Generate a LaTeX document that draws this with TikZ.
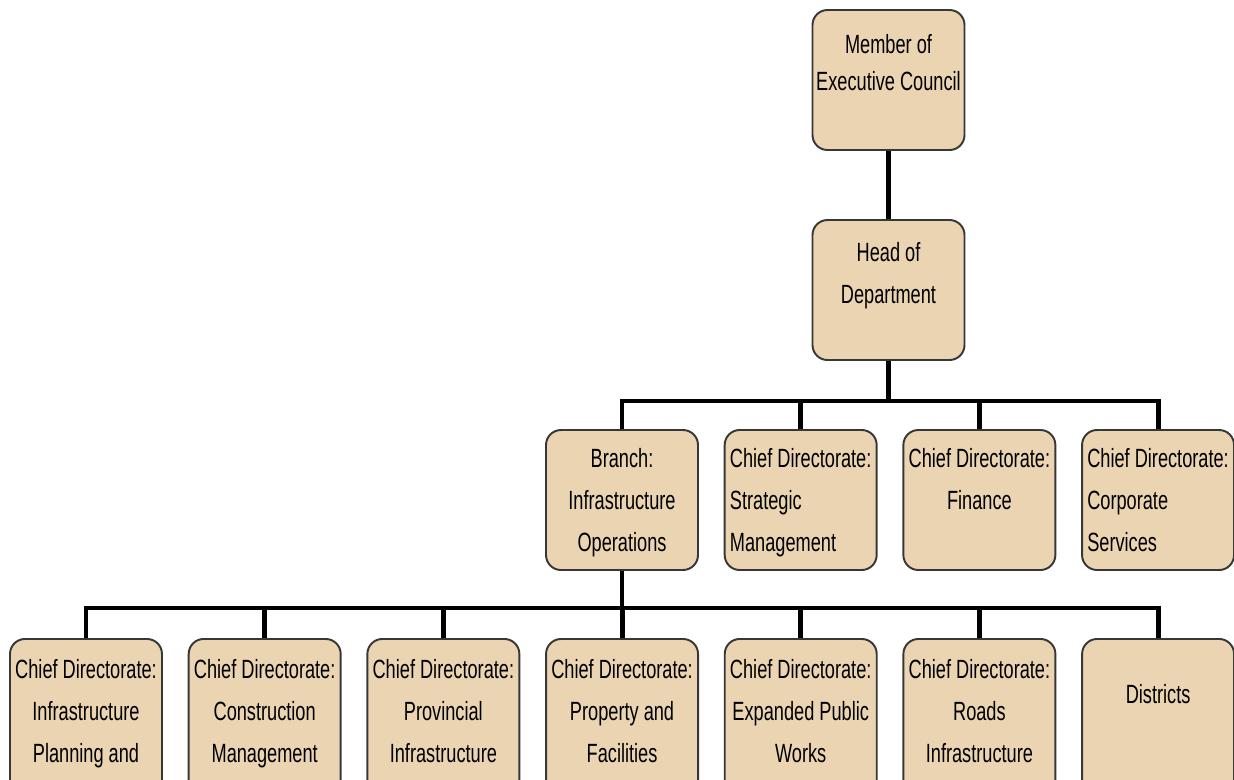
\documentclass[tikz,border=0pt]{standalone}
\usepackage{fontspec}
\setmainfont{Liberation Sans}[FakeStretch=0.69]
\usetikzlibrary{positioning,calc}
\definecolor{boxfill}{RGB}{234,212,178}
\definecolor{boxline}{RGB}{55,55,55}

\begin{document}
\begin{tikzpicture}[node distance=0.495cm,
  unit/.style={draw=boxline,line width=1.1pt,fill=boxfill,rounded corners=0.3cm,minimum width=3.04cm,minimum height=2.8cm,inner sep=0pt},
  lowunit/.style={unit,minimum height=3.4cm},
  txt/.style={anchor=north,inner sep=0pt,align=center,font=\fontsize{15}{24}\selectfont},
  conn/.style={line width=2.8pt}]
\useasboundingbox (0,0) rectangle (24.68,-15.58);

% top of the chart
\node[unit] (mec) at (17.77,-1.6) {};
\node[unit] (hod) at (17.77,-5.8) {};

% second level
\node[unit] (branch) at (12.44,-10.0) {};
\node[unit,right=of branch] (strat) {};
\node[unit,right=of strat] (fin) {};
\node[unit,right=of fin] (corp) {};

% third level
\node[lowunit,anchor=north] (plan) at (1.72,-12.76) {};
\node[lowunit,right=of plan] (constr) {};
\node[lowunit,right=of constr] (prov) {};
\node[lowunit,right=of prov] (prop) {};
\node[lowunit,right=of prop] (epw) {};
\node[lowunit,right=of epw] (roads) {};
\node[lowunit,right=of roads] (dist) {};

% texts
\node[txt] (mec-t) at ([yshift=-0.5cm]mec.north) {Member of\\[-3pt]Executive Council};
\node[txt] (hod-t) at ([yshift=-0.46cm]hod.north) {Head of\\Department};
\node[txt] (branch-t) at ([yshift=-0.38cm]branch.north) {Branch:\\Infrastructure\\Operations};
\node[txt,align=left] (strat-t) at ([yshift=-0.38cm]strat.north) {Chief Directorate:\\Strategic\\Management};
\node[txt] (fin-t) at ([yshift=-0.38cm]fin.north) {Chief Directorate:\\Finance};
\node[txt,align=left] (corp-t) at ([yshift=-0.38cm]corp.north) {Chief Directorate:\\Corporate\\Services};
\node[txt] (plan-t) at ([yshift=-0.42cm]plan.north) {Chief Directorate:\\Infrastructure\\Planning and};
\node[txt] (constr-t) at ([yshift=-0.42cm]constr.north) {Chief Directorate:\\Construction\\Management};
\node[txt] (prov-t) at ([yshift=-0.42cm]prov.north) {Chief Directorate:\\Provincial\\Infrastructure};
\node[txt] (prop-t) at ([yshift=-0.42cm]prop.north) {Chief Directorate:\\Property and\\Facilities};
\node[txt] (epw-t) at ([yshift=-0.42cm]epw.north) {Chief Directorate:\\Expanded Public\\Works};
\node[txt] (roads-t) at ([yshift=-0.42cm]roads.north) {Chief Directorate:\\Roads\\Infrastructure};
\node[txt] (dist-t) at ([yshift=-0.92cm]dist.north) {Districts};

% connectors
\draw[conn] (mec) -- (hod);
\draw[conn] (hod.south) -- ++(0,-0.8) coordinate (bus1);
\draw[conn] (branch.north) |- (bus1) -| (corp.north);
\foreach \n in {strat,fin}
  \draw[conn] (\n.north) -- (\n.north |- bus1);
\draw[conn] (branch.south) -- ++(0,-0.74) coordinate (bus2);
\draw[conn] (plan.north) |- (bus2) -| (dist.north);
\foreach \n in {constr,prov,prop,epw,roads}
  \draw[conn] (\n.north) -- (\n.north |- bus2);
\end{tikzpicture}
\end{document}
